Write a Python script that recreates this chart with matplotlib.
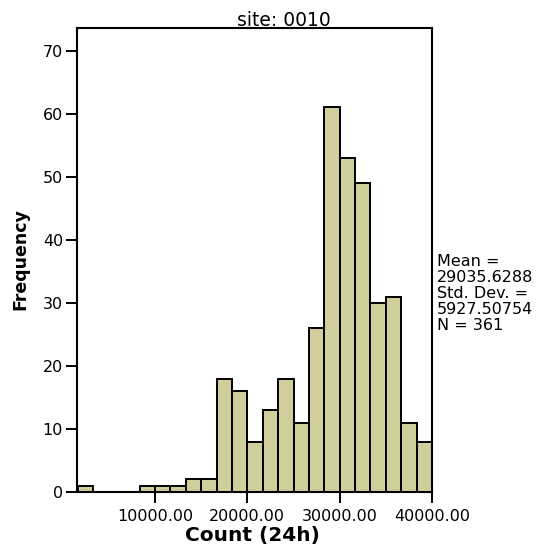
import matplotlib
matplotlib.use("Agg")
import matplotlib.pyplot as plt
import numpy as np

# Data
bin_width = 20000.0 / 12
bin_edges = [1666.67 + i * bin_width for i in range(24)]
counts = [1, 0, 0, 0, 1, 1, 1, 2, 2, 18, 16, 8, 13, 18, 11, 26, 61, 53, 49, 30, 31, 11, 8]
xticks = [10000, 20000, 30000, 40000]
xtick_labels = ["10000.00", "20000.00", "30000.00", "40000.00"]
yticks = [0, 10, 20, 30, 40, 50, 60, 70]
stats_lines = ["Mean =", "29035.6288", "Std. Dev. =", "5927.50754", "N = 361"]
title = "site: 0010"
xlabel = "Count (24h)"
ylabel = "Frequency"

plt.rcParams['font.family'] = ['DejaVu Sans']

W, H = 545, 552
fig = plt.figure(figsize=(W / 100, H / 100), dpi=100)
ax = fig.add_axes([77 / W, (H - 492) / H, 355 / W, 464 / H])

edges = np.array(bin_edges)
ax.bar(edges[:-1], counts, width=np.diff(edges), align='edge',
       color='#D2CE9C', edgecolor='black', linewidth=1.4)

ax.set_xlim(1550, 40000)
ax.set_ylim(0, 73.6)
ax.set_xticks(xticks)
ax.set_xticklabels(xtick_labels)
ax.set_yticks(yticks)
ax.tick_params(axis='both', direction='out', length=8, width=1.4, labelsize=11.5)
ax.tick_params(axis='x', pad=4)
ax.tick_params(axis='y', pad=2)
for s in ax.spines.values():
    s.set_linewidth(1.5)

fig.text(284 / W, 1 - 20 / H, title, ha='center', va='center', fontsize=13.5)
fig.text(252 / W, 1 - 536 / H, xlabel, ha='center', va='center', fontsize=14.5, fontweight='bold')
fig.text(20 / W, 1 - 259 / H, ylabel, ha='center', va='center', rotation=90,
         fontsize=12.5, fontweight='bold')

for i, line in enumerate(stats_lines):
    fig.text(437 / W, 1 - (261 + 16 * i) / H, line, ha='left', va='center', fontsize=11.5)

fig.savefig("out.png", dpi=100, facecolor='white')
